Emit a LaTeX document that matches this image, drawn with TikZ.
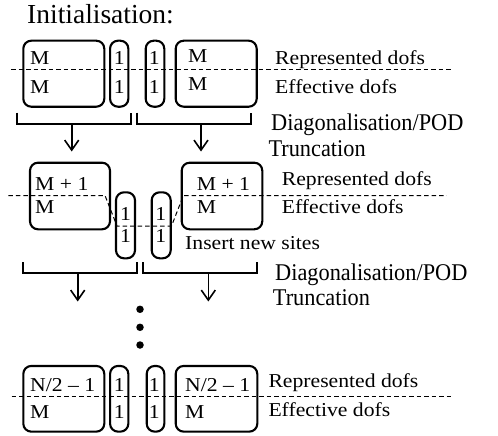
\documentclass[tikz,border=0pt]{standalone}
\usepackage{fontspec}
\setmainfont{Liberation Serif}
\usepackage{graphicx}
\usetikzlibrary{arrows.meta}
\newcommand\smtxt[1]{{\fontsize{19.7}{22}\selectfont\scalebox{1.1}[1]{#1}}}
\newcommand\bigtxt[1]{{\fontsize{24}{26}\selectfont\scalebox{0.93}[1]{#1}}}
\begin{document}
\begin{tikzpicture}[x=1pt,y=-1pt,
 boxst/.style={draw, line width=2.1pt, rounded corners=8pt, inner sep=0pt},
 lbl/.style={anchor=base west, inner sep=0pt},
 num/.style={anchor=base, inner sep=0pt},
 dsh/.style={dash pattern=on 4.5pt off 3pt, line width=1pt},
 brk/.style={line width=1.9pt},
 arr/.style={line width=1.6pt, -{Straight Barb[length=10pt,width=14pt]}},
 dotst/.style={circle, fill, inner sep=0pt, minimum size=7.5pt},
]
\useasboundingbox (0,0) rectangle (498,436);

% title
\node[lbl] (title) at (27,23.3) {\fontsize{27.5}{30}\selectfont Initialisation:};

% ---------- row 1 ----------
\coordinate (r1a) at (11,70);
\coordinate (r1b) at (451.7,70);
\draw[dsh] (r1a) -- (r1b);
\node[boxst, minimum width=81pt, minimum height=66pt] (A1) at (63.8,73.7) {};
\node[boxst, minimum width=18.3pt, minimum height=66pt] (B1) at (119.2,73.7) {};
\node[boxst, minimum width=18.6pt, minimum height=66pt] (C1) at (155,73.7) {};
\node[boxst, minimum width=81pt, minimum height=66pt] (D1) at (216.2,73.7) {};
\node[lbl] (A1t) at (30,65) {\smtxt{M}};
\node[lbl] (A1b) at (30,93) {\smtxt{M}};
\node[num] (B1t) at (119.2,65) {\smtxt{1}};
\node[num] (B1b) at (119.2,93) {\smtxt{1}};
\node[num] (C1t) at (154.3,65) {\smtxt{1}};
\node[num] (C1b) at (154.3,93) {\smtxt{1}};
\node[lbl] (D1t) at (188,63) {\smtxt{M}};
\node[lbl] (D1b) at (188,91) {\smtxt{M}};
\node[lbl] (rep1) at (275,65) {\smtxt{Represented dofs}};
\node[lbl] (eff1) at (275,93.5) {\smtxt{Effective dofs}};

% brackets row 1
\draw[brk] (17.3,112.7) -- (17.3,124) -- (131,124) -- (131,112.7);
\draw[brk] (136.7,112.7) -- (136.7,124) -- (250.7,124) -- (250.7,112.7);
\coordinate (a1s) at (71.7,124);
\coordinate (a1e) at (71.7,151.5);
\coordinate (a2s) at (201,124);
\coordinate (a2e) at (201,151.5);
\draw[arr] (a1s) -- (a1e);
\draw[arr] (a2s) -- (a2e);
\node[lbl] (diag1) at (271,130) {\bigtxt{Diagonalisation/POD}};
\node[lbl] (trunc1) at (268.3,156.7) {\bigtxt{Truncation}};

% ---------- row 2 ----------
\coordinate (r2a) at (8.3,195.5);
\coordinate (r2b) at (105,195.5);
\coordinate (r2c) at (117,226);
\coordinate (r2d) at (171.5,226);
\coordinate (r2e) at (183.4,195.5);
\coordinate (r2f) at (446.7,195.5);
\draw[dsh] (r2a) -- (r2b) -- (r2c) -- (r2d) -- (r2e) -- (r2f);
\node[boxst, minimum width=80pt, minimum height=66.6pt] (E2) at (70,196) {};
\node[boxst, minimum width=19pt, minimum height=66pt] (F2) at (125.5,225.3) {};
\node[boxst, minimum width=19pt, minimum height=66pt] (G2) at (161.2,225.3) {};
\node[boxst, minimum width=80.6pt, minimum height=66.6pt] (H2) at (222,196) {};
\node[lbl] (E2t) at (35,190) {\smtxt{M + 1}};
\node[lbl] (E2b) at (35,213.3) {\smtxt{M}};
\node[lbl] (H2t) at (196.7,190) {\smtxt{M + 1}};
\node[lbl] (H2b) at (196.7,213.3) {\smtxt{M}};
\node[num] (F2t) at (125.5,220) {\smtxt{1}};
\node[num] (F2b) at (125.5,242.7) {\smtxt{1}};
\node[num] (G2t) at (160.8,220) {\smtxt{1}};
\node[num] (G2b) at (160.8,242.7) {\smtxt{1}};
\node[lbl] (ins) at (185,249) {\smtxt{Insert new sites}};
\node[lbl] (rep2) at (281.7,185) {\smtxt{Represented dofs}};
\node[lbl] (eff2) at (281.7,213) {\smtxt{Effective dofs}};

% brackets row 2
\draw[brk] (23.3,262) -- (23.3,273.3) -- (137.3,273.3) -- (137.3,262);
\draw[brk] (142.7,262) -- (142.7,273.3) -- (256.7,273.3) -- (256.7,262);
\coordinate (a3s) at (77.7,273.3);
\coordinate (a3e) at (77.7,301.5);
\coordinate (a4s) at (208.3,273.3);
\coordinate (a4e) at (208.3,301.5);
\draw[arr] (a3s) -- (a3e);
\draw[arr] (a4s) -- (a4e);
\node[lbl] (diag2) at (275,280.7) {\bigtxt{Diagonalisation/POD}};
\node[lbl] (trunc2) at (272.7,305) {\bigtxt{Truncation}};

% dots
\node[dotst] (dot1) at (140,309.3) {};
\node[dotst] (dot2) at (140,327.3) {};
\node[dotst] (dot3) at (140,345) {};

% ---------- row 3 ----------
\coordinate (r3a) at (11.7,396);
\coordinate (r3b) at (451.7,396);
\draw[dsh] (r3a) -- (r3b);
\node[boxst, minimum width=81pt, minimum height=65.7pt] (A3) at (63.8,398.8) {};
\node[boxst, minimum width=18.3pt, minimum height=65.7pt] (B3) at (119.2,398.8) {};
\node[boxst, minimum width=17.6pt, minimum height=65.7pt] (C3) at (155.5,398.8) {};
\node[boxst, minimum width=81.6pt, minimum height=65.7pt] (D3) at (216.5,398.8) {};
\node[lbl] (A3t) at (30,391.7) {\smtxt{N/2 – 1}};
\node[lbl] (A3b) at (30,418.3) {\smtxt{M}};
\node[num] (B3t) at (119.2,391.7) {\smtxt{1}};
\node[num] (B3b) at (119.2,418.3) {\smtxt{1}};
\node[num] (C3t) at (154.3,391.7) {\smtxt{1}};
\node[num] (C3b) at (154.3,418.3) {\smtxt{1}};
\node[lbl] (D3t) at (185,391.7) {\smtxt{N/2 – 1}};
\node[lbl] (D3b) at (185,418.3) {\smtxt{M}};
\node[lbl] (rep3) at (268.3,387.3) {\smtxt{Represented dofs}};
\node[lbl] (eff3) at (268.3,416.7) {\smtxt{Effective dofs}};
\end{tikzpicture}
\end{document}
